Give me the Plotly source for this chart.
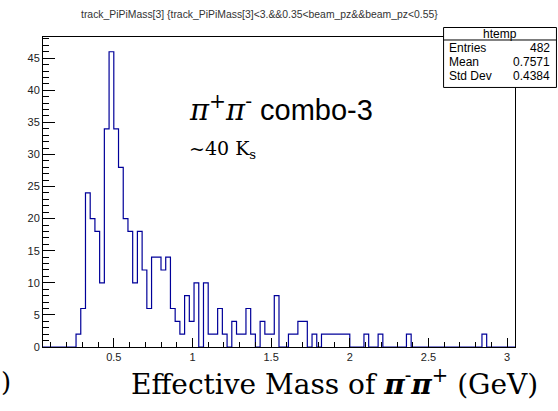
import plotly.graph_objects as go

# ---- data ----
bin_low = 0.05
bin_width = 0.03
counts = [0, 0, 0, 0, 0, 0, 0, 2, 6, 24,
          20, 18, 10, 34, 46, 34, 28, 20, 18, 10,
          18, 12, 6, 14, 14, 12, 14, 6, 4, 2,
          8, 4, 10, 0, 10, 2, 2, 6, 2, 0,
          4, 2, 2, 6, 2, 0, 4, 2, 2, 8,
          0, 0, 2, 2, 4, 4, 0, 2, 0, 2,
          2, 2, 2, 2, 2, 0, 0, 0, 2, 0,
          0, 2, 0, 0, 0, 0, 0, 2, 0, 0,
          0, 0, 0, 0, 0, 0, 0, 0, 0, 0,
          0, 0, 0, 2, 0, 0, 0, 0, 0, 0]
x_tick_vals = [0.5, 1, 1.5, 2, 2.5, 3]
x_tick_text = ["0.5", "1", "1.5", "2", "2.5", "3"]
y_tick_vals = [0, 5, 10, 15, 20, 25, 30, 35, 40, 45]
stats_labels = ["Entries", "Mean", "Std Dev"]
stats_values = ["482", "0.7571", "0.4384"]
hist_name = "htemp"
title_text = "track_PiPiMass[3] {track_PiPiMass[3]&lt;3.&&0.35&lt;beam_pz&&beam_pz&lt;0.55}"

# ---- geometry (pixels) ----
W, H = 558, 411
L, R, T, B = 43, 515.5, 36.5, 346.7

def px(x):
    return (x - L) / (R - L)

def py(y):
    return (B - y) / (B - T)

n = len(counts)
edges = [bin_low + i * bin_width for i in range(n + 1)]
yvals = counts + [counts[-1]]

fig = go.Figure()
fig.add_trace(go.Scatter(x=edges, y=yvals, mode="lines", line_shape="hv",
                         line=dict(color="#000099", width=1.2),
                         hoverinfo="skip", showlegend=False))

axis_font = dict(family="Liberation Sans, Arial", size=11, color="#222")
fig.update_layout(
    width=W, height=H,
    margin=dict(l=L, r=W - R, t=T, b=H - B, pad=0),
    paper_bgcolor="white", plot_bgcolor="white",
    showlegend=False,
    xaxis=dict(range=[bin_low, bin_low + n * bin_width], showgrid=False, zeroline=False,
               showline=True, linecolor="black", linewidth=1, mirror=True,
               tickmode="array", tickvals=x_tick_vals, ticktext=x_tick_text,
               ticks="inside", ticklen=9, tickcolor="black", tickwidth=1,
               minor=dict(ticks="inside", ticklen=5, dtick=0.1, tick0=0,
                          tickcolor="black", showgrid=False),
               tickfont=axis_font),
    yaxis=dict(range=[0, 48.3], showgrid=False, zeroline=False,
               showline=True, linecolor="black", linewidth=1, mirror=True,
               tickmode="array", tickvals=y_tick_vals,
               ticks="inside", ticklen=12, tickcolor="black", tickwidth=1,
               minor=dict(ticks="inside", ticklen=6, dtick=1, tick0=0,
                          tickcolor="black", showgrid=False),
               tickfont=axis_font),
)

anns = []
# title
anns.append(dict(x=px(260), y=py(14), xref="paper", yref="paper", text=title_text,
                 showarrow=False, xanchor="center", yanchor="middle",
                 font=dict(family="Liberation Sans, Arial", size=10.4, color="#333")))

# big label
serif = "DejaVu Serif"
anns.append(dict(x=px(187), y=py(108), xref="paper", yref="paper",
                 text=("<span style='font-family:" + serif + "'><i>π</i><sup>+</sup><i>π</i><sup>-</sup></span>"
                       " combo-3"),
                 showarrow=False, xanchor="left", yanchor="middle",
                 font=dict(family="Liberation Sans, Arial", size=29, color="black")))
anns.append(dict(x=px(187), y=py(149), xref="paper", yref="paper",
                 text="~40 K<sub>s</sub>",
                 showarrow=False, xanchor="left", yanchor="middle",
                 font=dict(family=serif, size=19, color="black")))

# x axis title
anns.append(dict(x=px(335), y=py(382), xref="paper", yref="paper",
                 text="Effective Mass of <b><i>π</i></b><sup>-</sup><b><i>π</i></b><sup>+</sup> (GeV)",
                 showarrow=False, xanchor="center", yanchor="middle",
                 font=dict(family=serif, size=28, color="black")))
anns.append(dict(x=px(-1), y=py(382), xref="paper", yref="paper", text=")",
                 showarrow=False, xanchor="left", yanchor="middle",
                 font=dict(family=serif, size=26, color="black")))

# stats box
bx0, bx1, by0, by1, bdiv = 444, 557, 27, 87, 39.5
shapes = [
    dict(type="rect", xref="paper", yref="paper", x0=px(bx0), x1=px(bx1), y0=py(by0), y1=py(by1),
         line=dict(color="black", width=1), fillcolor="white", layer="above"),
    dict(type="line", xref="paper", yref="paper", x0=px(bx0), x1=px(bx1), y0=py(bdiv), y1=py(bdiv),
         line=dict(color="black", width=1), layer="above"),
]
stat_font = dict(family="Liberation Sans, Arial", size=12, color="black")
anns.append(dict(x=px((bx0 + bx1) / 2), y=py(33.3), xref="paper", yref="paper", text=hist_name,
                 showarrow=False, xanchor="center", yanchor="middle", font=stat_font))
row_y = [48, 62, 76]
for lab, val, yy in zip(stats_labels, stats_values, row_y):
    anns.append(dict(x=px(bx0 + 3), y=py(yy), xref="paper", yref="paper", text=lab,
                     showarrow=False, xanchor="left", yanchor="middle", font=stat_font))
    anns.append(dict(x=px(bx1 - 4), y=py(yy), xref="paper", yref="paper", text=val,
                     showarrow=False, xanchor="right", yanchor="middle", font=stat_font))

fig.update_layout(annotations=anns, shapes=shapes)
fig.write_html("out.html")
